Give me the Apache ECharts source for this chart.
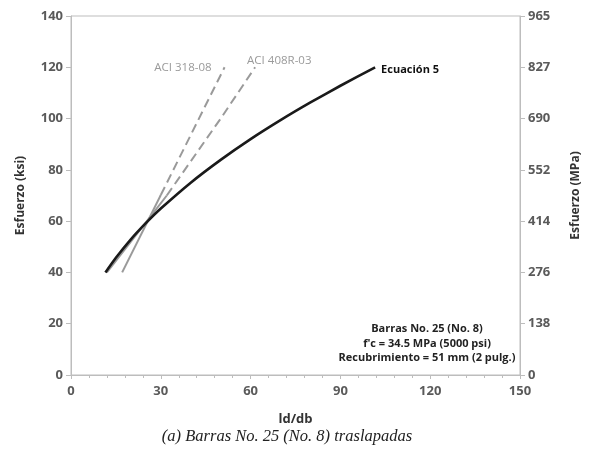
<!DOCTYPE html>
<html>
<head>
<meta charset="utf-8">
<script src="https://cdn.jsdelivr.net/npm/echarts@6/dist/echarts.min.js"></script>
<style>
  html, body { margin: 0; padding: 0; background: #ffffff; }
  #chart { width: 590px; height: 452px; }
</style>
</head>
<body>
<div id="chart"></div>
<script>
// Stress (ksi) against development length ratio ld/db
const ecuacion5 = [[11.5, 40], [15, 45.7], [20, 52.9], [25, 59.2], [30, 64.9], [40, 75.0],
                   [50, 83.9], [60, 92.0], [70, 99.4], [80, 106.3], [90, 112.8], [101.6, 120]];
const aci318Solid = [[17.1, 40], [30, 70.2]];
const aci318Dashed = [[30, 70.2], [51.3, 120]];
const aci408Solid = [[12, 40], [26, 61], [32, 70]];
const aci408Dashed = [[32, 70], [38, 80], [50, 100], [61.5, 120]];

const xTicks = [0, 30, 60, 90, 120, 150];
const ksiTicks = [0, 20, 40, 60, 80, 100, 120, 140];
const mpaLabels = ['0', '138', '276', '414', '552', '690', '827', '965'];

const noteLines = ['Barras No. 25 (No. 8)', "f'c = 34.5 MPa (5000 psi)", 'Recubrimiento = 51 mm (2 pulg.)'];
const caption = '(a) Barras No. 25 (No. 8) traslapadas';

const FONT = 'Open Sans';
const axisLineGray = '#bdbdbd';
const gray = '#9a9a9a';
const tickLabel = { color: '#5a5a5a', fontFamily: FONT, fontSize: 13, fontWeight: 'bold' };

const chart = echarts.init(document.getElementById('chart'), null, { renderer: 'canvas' });

chart.setOption({
  animation: false,
  backgroundColor: '#ffffff',
  grid: { left: 71, right: 63, top: 16, bottom: 77, show: true, borderColor: axisLineGray, borderWidth: 1 },
  xAxis: {
    type: 'value', min: xTicks[0], max: xTicks[xTicks.length - 1], interval: 30,
    name: 'ld/db', nameLocation: 'middle', nameGap: 38,
    nameTextStyle: { color: '#333', fontFamily: FONT, fontSize: 13, fontWeight: 'bold' },
    axisLine: { show: true, lineStyle: { color: axisLineGray } },
    axisTick: { show: true, length: 4, lineStyle: { color: axisLineGray } },
    minorTick: { show: true, splitNumber: 5, length: 3, lineStyle: { color: axisLineGray } },
    axisLabel: Object.assign({ margin: 10 }, tickLabel),
    splitLine: { show: false }
  },
  yAxis: [
    {
      type: 'value', min: 0, max: 140, interval: 20, position: 'left',
      name: 'Esfuerzo (ksi)', nameLocation: 'middle', nameGap: 44, nameRotate: 90,
      nameTextStyle: { color: '#333', fontFamily: FONT, fontSize: 12, fontWeight: 'bold' },
      axisLine: { show: true, lineStyle: { color: axisLineGray } },
      axisTick: { show: true, length: 5, lineStyle: { color: axisLineGray } },
      axisLabel: Object.assign({ margin: 8 }, tickLabel),
      splitLine: { show: false }
    },
    {
      type: 'value', min: 0, max: 140, interval: 20, position: 'right',
      name: 'Esfuerzo (MPa)', nameLocation: 'middle', nameGap: 50, nameRotate: 90,
      nameTextStyle: { color: '#333', fontFamily: FONT, fontSize: 12, fontWeight: 'bold' },
      axisLine: { show: true, lineStyle: { color: axisLineGray } },
      axisTick: { show: true, length: 5, lineStyle: { color: axisLineGray } },
      axisLabel: Object.assign({ margin: 8, formatter: (v) => mpaLabels[ksiTicks.indexOf(v)] }, tickLabel),
      splitLine: { show: false }
    }
  ],
  series: [
    {
      name: 'ACI 318-08', type: 'line', data: aci318Solid, symbol: 'none',
      lineStyle: { color: gray, width: 2 }
    },
    {
      name: 'ACI 318-08 ext', type: 'line', symbol: 'none', data: aci318Dashed,
      lineStyle: { color: gray, width: 2, type: [9, 5] },
      endLabel: {
        show: true, formatter: 'ACI 318-08', align: 'right', distance: 0, offset: [-13, 0],
        color: gray, fontFamily: FONT, fontSize: 11.5
      }
    },
    {
      name: 'ACI 408R-03', type: 'line', data: aci408Solid, symbol: 'none',
      lineStyle: { color: gray, width: 2 }
    },
    {
      name: 'ACI 408R-03 ext', type: 'line', symbol: 'none', data: aci408Dashed,
      lineStyle: { color: gray, width: 2, type: [9, 5] },
      endLabel: {
        show: true, formatter: 'ACI 408R-03', align: 'left', distance: 0, offset: [-8, -7],
        color: gray, fontFamily: FONT, fontSize: 11.5
      }
    },
    {
      name: 'Ecuación 5', type: 'line', smooth: 0.2, symbol: 'none', data: ecuacion5,
      lineStyle: { color: '#1a1a1a', width: 2.6 },
      endLabel: {
        show: true, formatter: 'Ecuación 5', distance: 6, offset: [0, 3],
        color: '#111', fontFamily: FONT, fontSize: 11, fontWeight: 'bold'
      }
    }
  ],
  graphic: [
    {
      type: 'text', x: 427, y: 322, z: 10,
      style: {
        text: noteLines.join('\n'), textAlign: 'center',
        fill: '#222', font: 'bold 11px "Open Sans"', lineHeight: 14.5
      }
    },
    {
      type: 'text', x: 287, y: 437, z: 10,
      style: {
        text: caption, textAlign: 'center', textVerticalAlign: 'middle',
        fill: '#222', font: 'italic 16.5px "Liberation Serif"'
      }
    }
  ]
});
</script>
</body>
</html>
